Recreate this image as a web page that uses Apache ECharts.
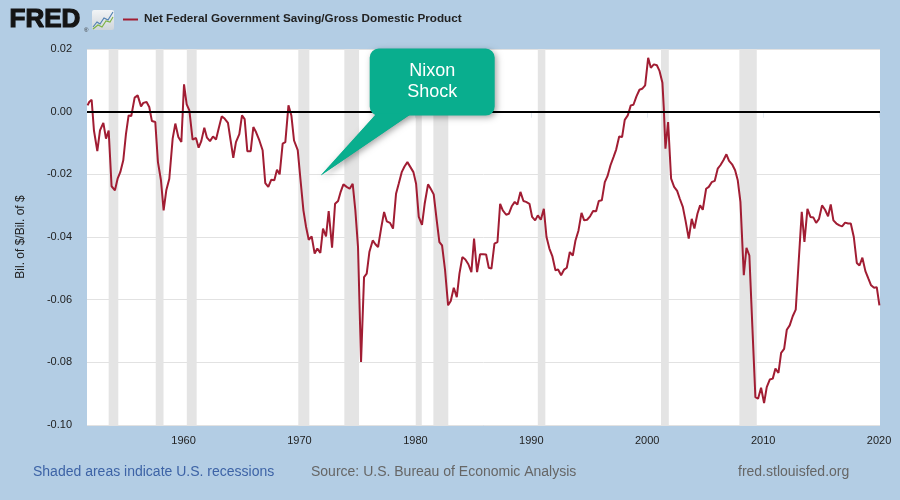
<!DOCTYPE html>
<html><head><meta charset="utf-8">
<script src="https://cdn.jsdelivr.net/npm/echarts@6/dist/echarts.min.js"></script>
<style>html,body{margin:0;padding:0;background:#b3cde4;}#c{width:900px;height:500px;}</style>
</head><body><div id="c"></div>
<script>
const title = 'Net Federal Government Saving/Gross Domestic Product';
const yAxisName = 'Bil. of $/Bil. of $';
const xTickYears = [1960, 1970, 1980, 1990, 2000, 2010, 2020];
const yTicks = [-0.10, -0.08, -0.06, -0.04, -0.02, 0.00, 0.02];
const recessions = [
  [1953.54, 1954.37], [1957.60, 1958.27], [1960.28, 1961.13], [1969.90, 1970.85],
  [1973.87, 1975.14], [1980.03, 1980.55], [1981.55, 1982.84], [1990.56, 1991.21],
  [2001.19, 2001.86], [2007.95, 2009.45]
];
const years = [
1951.72,1951.86,1952.07,1952.27,1952.56,1952.79,1953.08,1953.31,1953.54,1953.79,
1954.08,1954.31,1954.54,1954.80,1955.03,1955.26,1955.49,1955.78,1956.04,1956.33,
1956.53,1956.81,1957.04,1957.27,1957.56,1957.79,1958.05,1958.28,1958.51,1958.77,
1959.06,1959.29,1959.55,1959.81,1960.04,1960.27,1960.50,1960.78,1961.07,1961.30,
1961.53,1961.79,1962.02,1962.28,1962.54,1962.80,1963.03,1963.29,1963.54,1963.83,
1964.06,1964.29,1964.52,1964.81,1965.04,1965.27,1965.50,1965.79,1966.02,1966.25,
1966.54,1966.82,1967.05,1967.31,1967.57,1967.83,1968.06,1968.29,1968.55,1968.78,
1969.05,1969.30,1969.53,1969.85,1970.08,1970.34,1970.57,1970.80,1971.05,1971.31,
1971.54,1971.80,1972.03,1972.29,1972.52,1972.81,1973.07,1973.33,1973.56,1973.79,
1974.07,1974.33,1974.59,1974.82,1975.05,1975.31,1975.57,1975.80,1976.03,1976.32,
1976.55,1976.78,1977.04,1977.30,1977.53,1977.81,1978.07,1978.33,1978.56,1978.82,
1979.06,1979.31,1979.57,1979.83,1980.06,1980.29,1980.57,1980.80,1981.09,1981.32,
1981.58,1981.84,1982.07,1982.30,1982.56,1982.82,1983.05,1983.31,1983.57,1983.80,
1984.05,1984.31,1984.57,1984.83,1985.06,1985.32,1985.58,1985.84,1986.10,1986.33,
1986.56,1986.82,1987.08,1987.31,1987.54,1987.83,1988.06,1988.31,1988.57,1988.80,
1989.06,1989.32,1989.55,1989.84,1990.07,1990.33,1990.56,1990.82,1991.08,1991.31,
1991.56,1991.82,1992.08,1992.31,1992.57,1992.83,1993.06,1993.32,1993.58,1993.81,
1994.07,1994.33,1994.56,1994.81,1995.07,1995.33,1995.59,1995.82,1996.08,1996.34,
1996.57,1996.83,1997.09,1997.32,1997.58,1997.83,1998.06,1998.32,1998.58,1998.81,
1999.07,1999.33,1999.56,1999.82,2000.08,2000.31,2000.57,2000.83,2001.06,2001.31,
2001.43,2001.57,2001.80,2002.06,2002.32,2002.58,2002.81,2003.07,2003.30,2003.58,
2003.84,2004.07,2004.33,2004.56,2004.79,2005.08,2005.31,2005.56,2005.82,2006.08,
2006.31,2006.57,2006.83,2007.06,2007.32,2007.58,2007.81,2008.04,2008.33,2008.56,
2008.81,2009.07,2009.33,2009.56,2009.82,2010.08,2010.31,2010.57,2010.83,2011.06,
2011.32,2011.55,2011.81,2012.04,2012.29,2012.55,2012.81,2013.07,2013.33,2013.56,
2013.82,2014.08,2014.34,2014.57,2014.82,2015.08,2015.34,2015.60,2015.83,2016.06,
2016.32,2016.58,2016.81,2017.07,2017.33,2017.56,2017.82,2018.08,2018.31,2018.56,
2018.82,2019.08,2019.31,2019.57,2019.80,2020.03
];
const values = [
0.0020,0.0031,0.0038,-0.0060,-0.0126,-0.0060,-0.0036,-0.0086,-0.0060,-0.0238,
-0.0251,-0.0214,-0.0193,-0.0155,-0.0072,-0.0012,-0.0014,0.0045,0.0052,0.0017,
0.0028,0.0031,0.0015,-0.0030,-0.0033,-0.0161,-0.0219,-0.0315,-0.0251,-0.0214,
-0.0086,-0.0038,-0.0081,-0.0097,0.0087,0.0023,0.0004,-0.0089,-0.0084,-0.0115,
-0.0094,-0.0051,-0.0083,-0.0094,-0.0079,-0.0089,-0.0054,-0.0015,-0.0022,-0.0036,
-0.0092,-0.0147,-0.0097,-0.0072,-0.0012,-0.0024,-0.0126,-0.0126,-0.0049,-0.0065,
-0.0092,-0.0123,-0.0228,-0.0240,-0.0217,-0.0219,-0.0185,-0.0200,-0.0102,-0.0097,
0.0020,-0.0012,-0.0092,-0.0123,-0.0214,-0.0315,-0.0368,-0.0409,-0.0398,-0.0453,
-0.0437,-0.0451,-0.0373,-0.0398,-0.0317,-0.0434,-0.0294,-0.0285,-0.0255,-0.0232,
-0.0240,-0.0246,-0.0230,-0.0315,-0.0432,-0.0799,-0.0528,-0.0517,-0.0448,-0.0411,
-0.0423,-0.0432,-0.0373,-0.0320,-0.0350,-0.0355,-0.0373,-0.0262,-0.0230,-0.0193,
-0.0175,-0.0161,-0.0177,-0.0193,-0.0230,-0.0336,-0.0361,-0.0294,-0.0232,-0.0246,
-0.0264,-0.0347,-0.0416,-0.0427,-0.0506,-0.0618,-0.0604,-0.0562,-0.0592,-0.0517,
-0.0464,-0.0472,-0.0487,-0.0512,-0.0405,-0.0512,-0.0455,-0.0455,-0.0456,-0.0498,
-0.0501,-0.0421,-0.0416,-0.0294,-0.0315,-0.0329,-0.0326,-0.0302,-0.0288,-0.0296,
-0.0256,-0.0285,-0.0288,-0.0294,-0.0336,-0.0347,-0.0331,-0.0345,-0.0310,-0.0400,
-0.0437,-0.0462,-0.0506,-0.0504,-0.0522,-0.0504,-0.0498,-0.0448,-0.0459,-0.0411,
-0.0379,-0.0323,-0.0347,-0.0345,-0.0334,-0.0317,-0.0318,-0.0285,-0.0283,-0.0225,
-0.0206,-0.0171,-0.0145,-0.0121,-0.0079,-0.0081,-0.0026,-0.0012,0.0020,0.0022,
0.0049,0.0070,0.0073,0.0084,0.0172,0.0140,0.0151,0.0148,0.0130,0.0092,
0.0010,-0.0118,-0.0033,-0.0214,-0.0240,-0.0253,-0.0278,-0.0304,-0.0347,-0.0405,
-0.0342,-0.0373,-0.0326,-0.0299,-0.0313,-0.0246,-0.0240,-0.0225,-0.0221,-0.0182,
-0.0171,-0.0155,-0.0136,-0.0157,-0.0168,-0.0187,-0.0219,-0.0288,-0.0522,-0.0435,
-0.0459,-0.0687,-0.0911,-0.0916,-0.0881,-0.0930,-0.0879,-0.0855,-0.0852,-0.0820,
-0.0834,-0.0770,-0.0757,-0.0696,-0.0682,-0.0653,-0.0632,-0.0475,-0.0320,-0.0416,
-0.0310,-0.0336,-0.0338,-0.0355,-0.0342,-0.0299,-0.0313,-0.0334,-0.0296,-0.0347,
-0.0357,-0.0363,-0.0366,-0.0354,-0.0357,-0.0357,-0.0400,-0.0483,-0.0491,-0.0466,
-0.0509,-0.0533,-0.0554,-0.0562,-0.0560,-0.0618
];
const annotation = { text: 'Nixon\nShock', year: 1971.83, value: -0.0204 };
const footerLeft = 'Shaded areas indicate U.S. recessions';
const footerMid = 'Source: U.S. Bureau of Economic Analysis';
const footerRight = 'fred.stlouisfed.org';

const FONT = '"Liberation Sans", Arial, sans-serif';
const chart = echarts.init(document.getElementById('c'), null, {renderer: 'canvas'});
const lineData = years.map((y, i) => [y, values[i]]);

chart.setOption({
  backgroundColor: '#b3cde4',
  animation: false,
  grid: { left: 87, right: 20, top: 49, bottom: 75, show: true, backgroundColor: '#ffffff', borderWidth: 0 },
  xAxis: {
    type: 'value', min: 1951.67, max: 2020.08,
    splitLine: { show: false },
    axisLine: { show: true, lineStyle: { color: '#d6e2ee', width: 1 } },
    axisTick: { show: true, customValues: xTickYears, length: 6, lineStyle: { color: '#e4ebf2' } },
    axisLabel: { customValues: xTickYears, formatter: v => String(Math.round(v)), color: '#222', fontSize: 11, fontFamily: FONT, margin: 10 }
  },
  yAxis: {
    type: 'value', min: yTicks[0], max: yTicks[yTicks.length - 1], interval: 0.02,
    name: yAxisName, nameLocation: 'middle', nameGap: 60, nameRotate: 90,
    nameTextStyle: { color: '#222', fontSize: 12, fontFamily: FONT },
    axisLine: { show: false }, axisTick: { show: false },
    splitLine: { show: true, lineStyle: { color: '#e2e2e2', width: 1 } },
    axisLabel: { formatter: v => v.toFixed(2), color: '#222', fontSize: 11, fontFamily: FONT, margin: 15 }
  },
  series: [
    {
      type: 'line', data: [], z: 1, silent: true,
      markArea: {
        silent: true, itemStyle: { color: '#e4e4e4' },
        data: recessions.map(r => [{ xAxis: r[0] }, { xAxis: r[1] }])
      }
    },
    {
      type: 'line', data: lineData, z: 3, showSymbol: false, symbol: 'none',
      lineStyle: { color: '#a11d33', width: 2 },
      markLine: {
        silent: true, symbol: 'none', label: { show: false },
        lineStyle: { color: '#000', width: 2, type: 'solid' },
        data: [{ yAxis: 0 }]
      }
    }
  ]
});

// Annotation callout placed relative to its data anchor
const tip = chart.convertToPixel({ gridIndex: 0 }, [annotation.year, annotation.value]);
const bx = tip[0] + 49, by = tip[1] - 127, bw = 125, bh = 67;
const teal = '#09ae8e';
const Z = 100;
chart.setOption({
  graphic: [
    // FRED logo
    { type: 'text', left: 9, top: 6, z: Z, style: { text: 'FRED', fill: '#141414', stroke: '#141414', lineWidth: 1.2, font: 'bold 26px ' + FONT } },
    { type: 'text', left: 84, top: 27, z: Z, style: { text: '®', fill: '#333', font: '6px ' + FONT } },
    { type: 'rect', z: Z, shape: { x: 92, y: 10, width: 22, height: 20, r: 2 },
      style: { fill: new echarts.graphic.LinearGradient(0, 0, 0, 1, [{offset: 0, color: '#f2f4f6'}, {offset: 1, color: '#cfd5da'}]) } },
    { type: 'polyline', z: Z, shape: { points: [[93, 27], [97, 22], [100, 24], [104, 18], [108, 20], [113, 12]] }, style: { stroke: '#4f7fb0', lineWidth: 1.1, fill: null } },
    { type: 'polyline', z: Z, shape: { points: [[93, 29], [98, 25], [102, 27], [106, 21], [110, 22], [113, 17]] }, style: { stroke: '#7cb342', lineWidth: 1.1, fill: null } },
    // legend
    { type: 'line', z: Z, shape: { x1: 123, y1: 19.5, x2: 138, y2: 19.5 }, style: { stroke: '#a11d33', lineWidth: 2 } },
    { type: 'text', left: 144, top: 13, z: Z, style: { text: title, fill: '#222', font: 'bold 11.7px ' + FONT } },
    // footer
    { type: 'text', left: 33, top: 465, z: Z, style: { text: footerLeft, fill: '#3d63a6', font: '14px ' + FONT } },
    { type: 'text', left: 311, top: 465, z: Z, style: { text: footerMid, fill: '#666', font: '14px ' + FONT } },
    { type: 'text', left: 738, top: 465, z: Z, style: { text: footerRight, fill: '#666', font: '14px ' + FONT } },
    // callout
    { type: 'polygon', z: Z, shape: { points: [[tip[0], tip[1]], [bx + 7, by + bh - 2], [bx + 42, by + bh - 2]] },
      style: { fill: teal, shadowBlur: 6, shadowColor: 'rgba(0,0,0,0.35)', shadowOffsetX: 2, shadowOffsetY: 2 } },
    { type: 'rect', z: Z + 1, shape: { x: bx, y: by, width: bw, height: bh, r: 9 },
      style: { fill: teal, shadowBlur: 6, shadowColor: 'rgba(0,0,0,0.35)', shadowOffsetX: 2, shadowOffsetY: 2 } },
    { type: 'polygon', z: Z + 2, shape: { points: [[tip[0], tip[1]], [bx + 7, by + bh - 2], [bx + 42, by + bh - 2]] },
      style: { fill: teal } },
    { type: 'text', z: Z + 3, x: bx + bw / 2, y: by + bh / 2 - 1,
      style: { text: annotation.text, fill: '#fff', font: '18px ' + FONT, align: 'center', verticalAlign: 'middle', lineHeight: 21 } }
  ]
});
</script></body></html>
